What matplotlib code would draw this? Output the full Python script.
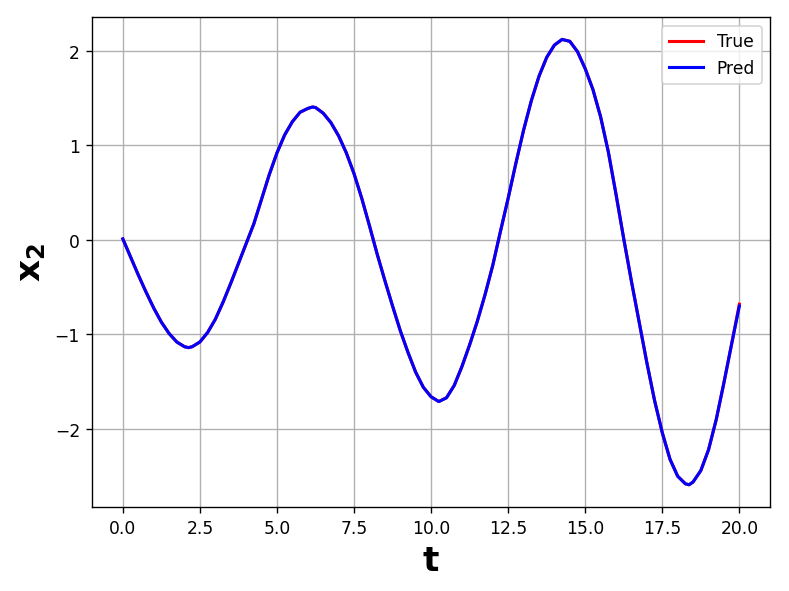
#!/usr/bin/env python3
"""
True vs predicted trajectory of state x2 over time.
"""

import matplotlib
matplotlib.use("Agg")
import matplotlib.pyplot as plt

# Time samples (every 0.25, plus the turning points)
t = [0.00, 0.25, 0.50, 0.75, 1.00, 1.25, 1.50, 1.75, 2.00, 2.13, 2.25,
     2.50, 2.75, 3.00, 3.25, 3.50, 3.75, 4.00, 4.25, 4.50, 4.75,
     5.00, 5.25, 5.50, 5.75, 6.00, 6.15, 6.25, 6.50, 6.75, 7.00, 7.25,
     7.50, 7.75, 8.00, 8.25, 8.50, 8.75, 9.00, 9.25, 9.50, 9.75,
     10.00, 10.25, 10.50, 10.75, 11.00, 11.25, 11.50, 11.75, 12.00, 12.25,
     12.50, 12.75, 13.00, 13.25, 13.50, 13.75, 14.00, 14.25, 14.50, 14.75,
     15.00, 15.25, 15.50, 15.75, 16.00, 16.25, 16.50, 16.75, 17.00, 17.25,
     17.50, 17.75, 18.00, 18.25, 18.37, 18.50, 18.75, 19.00, 19.25, 19.50, 19.75,
     20.00]

# Reference solution x2(t)
x2_true = [0.01, -0.18, -0.37, -0.55, -0.72, -0.87, -0.99, -1.08, -1.13, -1.14, -1.13,
           -1.08, -0.98, -0.84, -0.66, -0.46, -0.25, -0.04, 0.17, 0.43, 0.69,
           0.92, 1.11, 1.25, 1.35, 1.39, 1.405, 1.40, 1.34, 1.24, 1.10, 0.92,
           0.70, 0.44, 0.15, -0.15, -0.43, -0.70, -0.96, -1.19, -1.40, -1.56,
           -1.66, -1.71, -1.67, -1.54, -1.34, -1.11, -0.86, -0.58, -0.27, 0.09,
           0.44, 0.81, 1.16, 1.47, 1.73, 1.93, 2.06, 2.12, 2.10, 1.99,
           1.81, 1.59, 1.30, 0.93, 0.48, 0.01, -0.44, -0.87, -1.30, -1.70,
           -2.04, -2.32, -2.50, -2.58, -2.59, -2.56, -2.44, -2.22, -1.90, -1.51, -1.10,
           -0.68]

# Model prediction: identical to the eye except the last sample
x2_pred = x2_true[:-1] + [-0.70]


def main():
    fig, ax = plt.subplots(figsize=(6.4, 4.8), dpi=123.3)

    ax.plot(t, x2_true, 'r-', linewidth=1.8, label='True')
    ax.plot(t, x2_pred, 'b-', linewidth=1.8, label='Pred')

    ax.set_xlabel('t', fontsize=20, fontweight='bold')
    ax.set_ylabel(r'$\mathbf{x_2}$', fontsize=20)
    ax.legend(loc='upper right')
    ax.grid(True)

    fig.subplots_adjust(left=0.1166, right=0.976, top=0.9696, bottom=0.1419)
    fig.savefig('out.png', dpi=123.3)


if __name__ == "__main__":
    main()
